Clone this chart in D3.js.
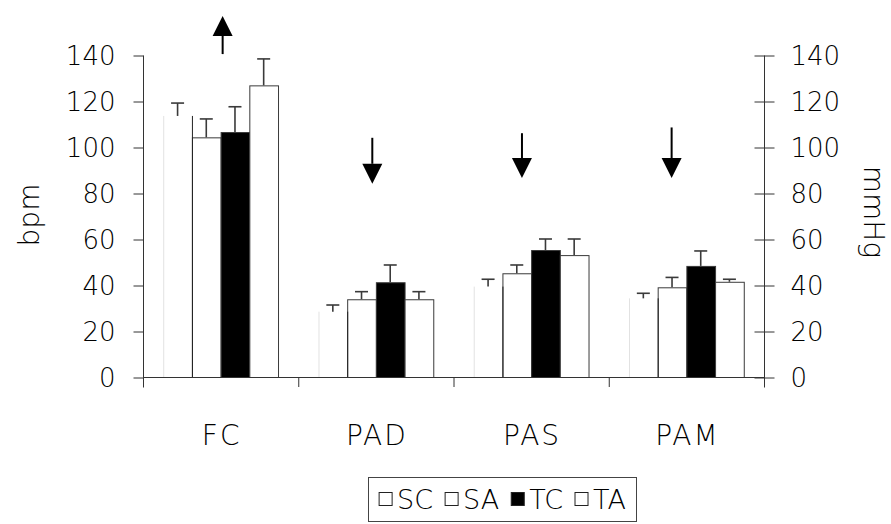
<!DOCTYPE html>
<html>
<head>
<meta charset="utf-8">
<script src="https://cdnjs.cloudflare.com/ajax/libs/d3/7.8.5/d3.min.js"></script>
<style>
  html, body { margin: 0; padding: 0; background: #fff; }
  svg text { font-family: "DejaVu Sans", sans-serif; font-weight: 200; fill: #000; }
</style>
</head>
<body>
<svg id="chart" width="891" height="524"></svg>
<script>
// Haemodynamic variables per group (mean, upward SD bar)
const categories = ["FC", "PAD", "PAS", "PAM"];
const series = ["SC", "SA", "TC", "TA"];
const seriesFill = { SC: "#ffffff", SA: "#ffffff", TC: "#000000", TA: "#ffffff" };
const valuesSC = [113.5, 28.4, 39.3, 34.2];
const valuesSA = [104.2, 33.8, 45.1, 39.0];
const valuesTC = [106.5, 41.2, 55.2, 48.3];
const valuesTA = [126.8, 33.8, 53.0, 41.4];
const errSC = [5.6, 2.9, 3.2, 2.2];
const errSA = [8.0, 3.3, 3.6, 4.3];
const errTC = [11.0, 7.5, 4.8, 6.5];
const errTA = [11.5, 3.3, 7.0, 1.1];
const yTicks = [0, 20, 40, 60, 80, 100, 120, 140];
// Direction-of-change arrows above each group (value range, place within group)
const arrowCat = ["FC", "PAD", "PAS", "PAM"];
const arrowFrom = [140.4, 104.0, 106.0, 108.5];
const arrowTo = [157.0, 84.0, 86.5, 86.5];
const arrowPos = [0.513, 0.477, 0.441, 0.405];

const valueTable = { SC: valuesSC, SA: valuesSA, TC: valuesTC, TA: valuesTA };
const errTable = { SC: errSC, SA: errSA, TC: errTC, TA: errTA };
const rows = [];
categories.forEach((c, i) => series.forEach(s => rows.push({ cat: c, s, v: valueTable[s][i], e: errTable[s][i] })));

const svg = d3.select("#chart");
const plotLeft = 143, plotRight = 764, plotTop = 55, plotBase = 377;

const x0 = d3.scaleBand().domain(categories).range([plotLeft, plotRight]).padding(0);
const x1 = d3.scaleBand().domain(series).range([0, x0.bandwidth()]).paddingInner(0).paddingOuter(0.705);
const y = d3.scaleLinear().domain([0, 140]).range([plotBase, plotTop]);
const yR = d3.scaleLinear().domain([0, 140]).range([plotBase, plotTop]);

const axisColor = "#333";

// Left axis
const gL = svg.append("g").attr("transform", `translate(${plotLeft + 0.5},0.5)`)
  .call(d3.axisLeft(y).tickValues(yTicks).tickSize(10).tickPadding(18).tickFormat(d3.format("d")));
gL.select(".domain").remove();
gL.append("line").attr("x1", 0).attr("x2", 0).attr("y1", plotTop).attr("y2", plotBase + 10).attr("stroke", axisColor);
gL.selectAll(".tick line").attr("stroke", axisColor);
gL.selectAll(".tick text").style("font-size", "26px").attr("fill", "#000").attr("dy", "0.36em");

// Right axis
const gR = svg.append("g").attr("transform", `translate(${plotRight + 0.5},0.5)`)
  .call(d3.axisRight(yR).tickValues(yTicks).tickSize(10).tickPadding(16).tickFormat(d3.format("d")));
gR.select(".domain").remove();
gR.append("line").attr("x1", 0).attr("x2", 0).attr("y1", plotTop).attr("y2", plotBase + 10).attr("stroke", axisColor);
gR.selectAll(".tick line").attr("stroke", axisColor).attr("x1", -10).attr("x2", 10);
gR.selectAll(".tick text").style("font-size", "26px").attr("fill", "#000").attr("dy", "0.36em");

// Bars
const bars = svg.append("g");
bars.selectAll("rect.bar").data(rows).join("rect").attr("class", "bar")
  .attr("x", d => x0(d.cat) + x1(d.s) + 0.5)
  .attr("y", d => y(d.v) + 0.5)
  .attr("width", x1.bandwidth())
  .attr("height", d => plotBase - y(d.v))
  .attr("fill", d => seriesFill[d.s])
  .attr("stroke", d => d.s === "SC" ? "none" : "#3a3a3a")
  .attr("stroke-width", 1);
// SC bars: faint left edge, dark right edge
const scRows = rows.filter(d => d.s === "SC");
bars.selectAll("line.scL").data(scRows).join("line").attr("class", "scL")
  .attr("x1", d => x0(d.cat) + x1(d.s) + 0.5).attr("x2", d => x0(d.cat) + x1(d.s) + 0.5)
  .attr("y1", d => y(d.v)).attr("y2", plotBase).attr("stroke", "#e2e2e2");
bars.selectAll("line.scR").data(scRows).join("line").attr("class", "scR")
  .attr("x1", d => x0(d.cat) + x1(d.s) + x1.bandwidth() + 0.5).attr("x2", d => x0(d.cat) + x1(d.s) + x1.bandwidth() + 0.5)
  .attr("y1", d => y(d.v)).attr("y2", plotBase).attr("stroke", "#222");

// Error bars (upper only)
const capW = 13;
const eb = svg.append("g").attr("stroke", "#3a3a3a").attr("stroke-width", 1.6);
eb.selectAll("line.stem").data(rows).join("line").attr("class", "stem")
  .attr("x1", d => x0(d.cat) + x1(d.s) + x1.bandwidth() / 2)
  .attr("x2", d => x0(d.cat) + x1(d.s) + x1.bandwidth() / 2)
  .attr("y1", d => y(d.v)).attr("y2", d => y(d.v + d.e));
eb.selectAll("line.cap").data(rows).join("line").attr("class", "cap")
  .attr("x1", d => x0(d.cat) + x1(d.s) + x1.bandwidth() / 2 - capW / 2)
  .attr("x2", d => x0(d.cat) + x1(d.s) + x1.bandwidth() / 2 + capW / 2)
  .attr("y1", d => y(d.v + d.e)).attr("y2", d => y(d.v + d.e));

// Category axis: baseline and boundary ticks
const gX = svg.append("g");
gX.append("line").attr("x1", plotLeft).attr("x2", plotRight + 1).attr("y1", plotBase + 0.5).attr("y2", plotBase + 0.5).attr("stroke", axisColor);
const bounds = categories.map(c => x0(c)).concat([plotRight]);
gX.selectAll("line.bt").data(bounds).join("line").attr("class", "bt")
  .attr("x1", d => d + 0.5).attr("x2", d => d + 0.5).attr("y1", plotBase).attr("y2", plotBase + 10).attr("stroke", axisColor);
gX.selectAll("text").data(categories).join("text")
  .attr("x", d => x0(d) + x0.bandwidth() / 2 + 1).attr("y", 435)
  .attr("text-anchor", "middle").attr("dy", "0.36em")
  .style("font-size", "28px").style("letter-spacing", "2px").text(d => d);

// Axis titles
svg.append("text").attr("transform", "translate(29,215) rotate(-90)")
  .attr("text-anchor", "middle").attr("dy", "0.36em").style("font-size", "28px").text("bpm");
svg.append("text").attr("transform", "translate(874,212) rotate(90)")
  .attr("text-anchor", "middle").attr("dy", "0.36em").style("font-size", "28px").text("mmHg");

// Arrows
const ag = svg.append("g");
arrowCat.forEach((c, i) => {
  const ax = x0(c) + x0.bandwidth() * arrowPos[i];
  const yFrom = y(arrowFrom[i]), yTo = y(arrowTo[i]);
  const headLen = 20, headHalf = 10;
  const sgn = yTo < yFrom ? 1 : -1; // 1 when pointing up
  const yBase = yTo + sgn * headLen;
  ag.append("line").attr("x1", ax).attr("x2", ax).attr("y1", yFrom).attr("y2", yBase)
    .attr("stroke", "#000").attr("stroke-width", 2);
  ag.append("path").attr("d", `M${ax},${yTo}L${ax - headHalf},${yBase}L${ax + headHalf},${yBase}Z`).attr("fill", "#000");
});

// Legend
const lg = svg.append("g");
const boxX = 368, boxY = 477, boxW = 268, boxH = 44;
lg.append("rect").attr("x", boxX + 0.5).attr("y", boxY + 0.5).attr("width", boxW).attr("height", boxH)
  .attr("fill", "#fff").attr("stroke", "#444");
const items = lg.selectAll("g.item").data(series).join("g").attr("class", "item");
items.append("rect").attr("width", 13).attr("height", 13).attr("y", -7)
  .attr("fill", d => seriesFill[d]).attr("stroke", "#222");
items.append("text").attr("x", 18).attr("dy", "0.36em").style("font-size", "27px").text(d => d);
let widths = [];
items.each(function () { widths.push(this.getBBox().width); });
const gap = 12;
const total = d3.sum(widths) + gap * (widths.length - 1);
let cx = boxX + (boxW - total) / 2;
items.each(function (d, i) {
  d3.select(this).attr("transform", `translate(${cx + 0.5},${boxY + boxH / 2 + 0.5})`);
  cx += widths[i] + gap;
});
</script>
</body>
</html>
